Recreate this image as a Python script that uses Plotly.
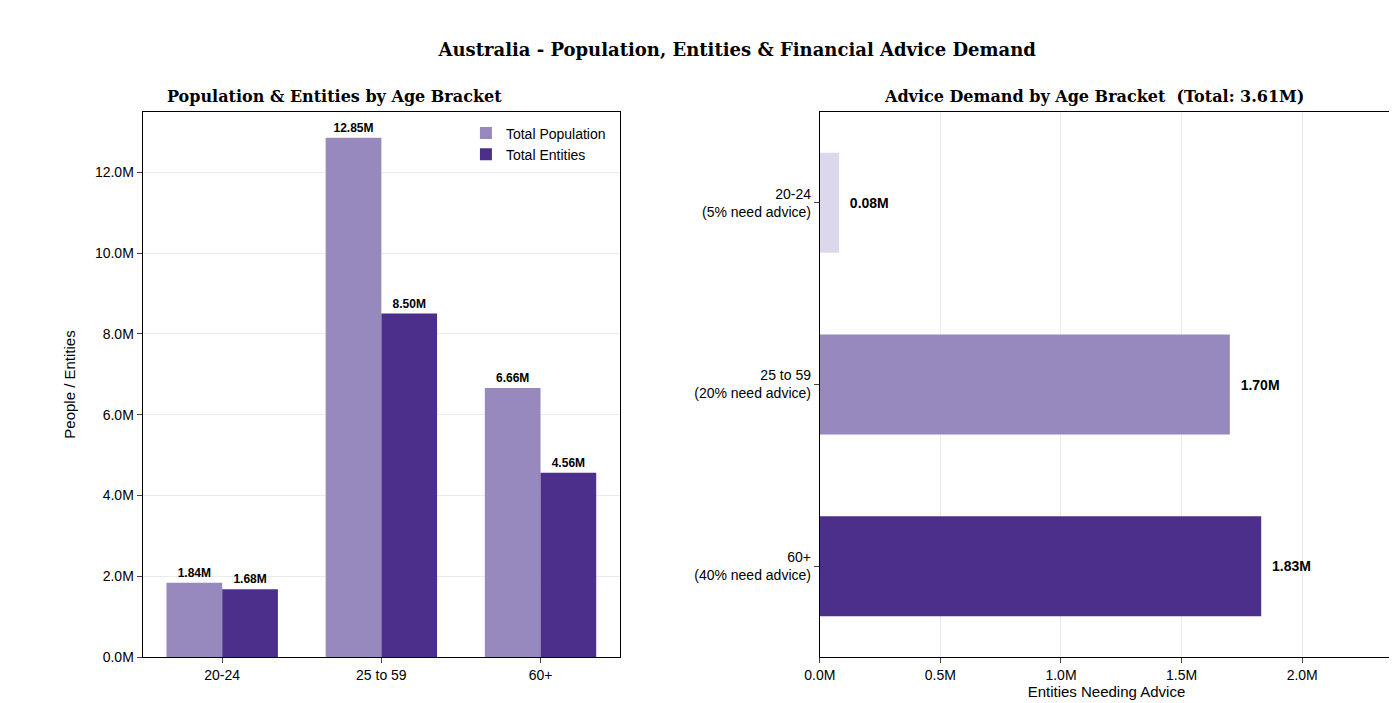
import plotly.graph_objects as go
from plotly.subplots import make_subplots

age_brackets = ["20-24", "25 to 59", "60+"]
total_population = [1.84, 12.85, 6.66]
total_entities = [1.68, 8.50, 4.56]
advice_labels = ["20-24<br>(5% need advice)", "25 to 59<br>(20% need advice)", "60+<br>(40% need advice)"]
advice_demand = [0.08, 1.70, 1.83]
advice_colors = ["#dcd7eb", "#9788bd", "#4b2f8b"]

serif = "DejaVu Serif"
sans = "Liberation Sans, Arial"

fig = make_subplots(rows=1, cols=2,
                    subplot_titles=["<b>Population & Entities by Age Bracket</b>",
                                    "<b>Advice Demand by Age Bracket  (Total: 3.61M)</b>"])

fig.add_trace(go.Bar(x=age_brackets, y=total_population, name="Total Population",
                     marker=dict(color="#9788bd", line=dict(width=0)), width=0.35, offset=-0.35,
                     text=[f"<b>{v:.2f}M</b>" for v in total_population], textposition="outside",
                     textfont=dict(size=12, color="black"), cliponaxis=False), row=1, col=1)
fig.add_trace(go.Bar(x=age_brackets, y=total_entities, name="Total Entities",
                     marker=dict(color="#4b2f8b", line=dict(width=0)), width=0.35, offset=0,
                     text=[f"<b>{v:.2f}M</b>" for v in total_entities], textposition="outside",
                     textfont=dict(size=12, color="black"), cliponaxis=False), row=1, col=1)

fig.add_trace(go.Bar(y=advice_labels, x=advice_demand, orientation="h", width=0.55,
                     marker=dict(color=advice_colors, line=dict(width=0)), showlegend=False,
                     text=[f"  <b>{v:.2f}M</b>" for v in advice_demand], textposition="outside",
                     textfont=dict(size=14, color="black"), cliponaxis=False), row=1, col=2)

fig.update_layout(
    width=1397, height=703, plot_bgcolor="white", paper_bgcolor="white",
    margin=dict(l=0, r=0, t=104, b=54),
    font=dict(family=sans, size=14, color="black"),
    title=dict(text="<b>Australia - Population, Entities & Financial Advice Demand</b>",
               x=0.522, xanchor="center", y=0.94, yanchor="middle", font=dict(family=serif, size=18)),
    legend=dict(x=0.425, xanchor="right", y=0.99, yanchor="top", bgcolor="rgba(0,0,0,0)",
                font=dict(size=14)),
    xaxis=dict(domain=[120 / 1397, 603 / 1397]),
    xaxis2=dict(domain=[805 / 1397, 1385 / 1397]),
)
for a in fig.layout.annotations:
    a.font = dict(family=serif, size=16)
    a.yshift = 4

fig.update_xaxes(showline=True, linecolor="black", mirror=True, ticks="outside", row=1, col=1)
fig.update_yaxes(range=[0, 13.49], tickvals=[0, 2, 4, 6, 8, 10, 12],
                 ticktext=[f"{v:.1f}M" for v in [0, 2, 4, 6, 8, 10, 12]],
                 title=dict(text="People / Entities", font=dict(size=15)),
                 showgrid=True, gridcolor="#ebebeb", showline=True, linecolor="black",
                 mirror=True, ticks="outside", row=1, col=1)
fig.update_xaxes(range=[0, 2.377], tickvals=[0, 0.5, 1, 1.5, 2],
                 ticktext=["0.0M", "0.5M", "1.0M", "1.5M", "2.0M"],
                 title=dict(text="Entities Needing Advice", font=dict(size=15), standoff=4),
                 showgrid=True, gridcolor="#ebebeb", showline=True, linecolor="black",
                 mirror=True, ticks="outside", row=1, col=2)
fig.update_yaxes(autorange="reversed", showline=True, linecolor="black", mirror=True,
                 ticks="outside", row=1, col=2)

fig.write_html("out.html")
